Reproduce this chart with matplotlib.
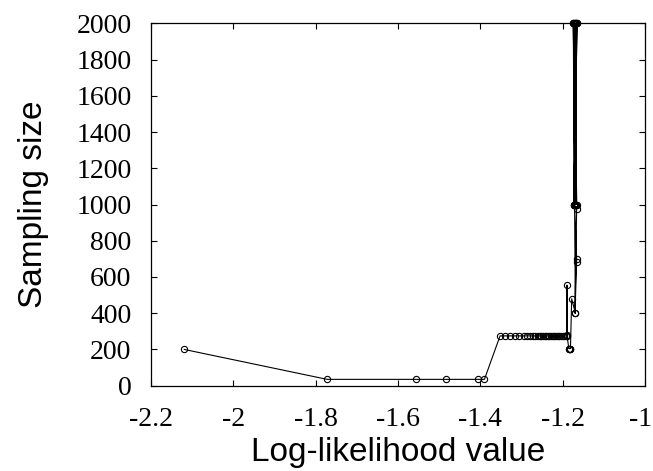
import matplotlib
matplotlib.use("Agg")
import matplotlib.pyplot as plt
import matplotlib.transforms as mtransforms

plt.rcParams['axes.unicode_minus'] = False

# log-likelihood (x) vs sampling size (y) in path order
loglik = [-2.119, -1.772, -1.557, -1.483, -1.405, -1.390,
          -1.352, -1.340, -1.327, -1.315, -1.305, -1.295, -1.287, -1.279,
          -1.273, -1.267, -1.260, -1.256, -1.252, -1.248, -1.244, -1.240,
          -1.236, -1.232, -1.228, -1.224, -1.220, -1.216, -1.212, -1.208,
          -1.204, -1.200, -1.196, -1.192, -1.189,
          -1.1895, -1.1895,
          -1.185, -1.184, -1.183, -1.182, -1.181,
          -1.178, -1.169, -1.171, -1.166, -1.166, -1.170, -1.166,
          -1.172, -1.174, -1.170, -1.172, -1.168, -1.170, -1.166,
          -1.171, -1.169, -1.167, -1.173, -1.165, -1.172, -1.168,
          -1.170, -1.174, -1.166]
size = [200, 35, 35, 35, 35, 35,
        275, 275, 275, 275, 275, 275, 275, 275,
        275, 275, 275, 275, 275, 275, 275, 275,
        275, 275, 275, 275, 275, 275, 275, 275,
        275, 275, 275, 275, 275,
        555, 280,
        205, 205, 205, 205, 205,
        480, 400, 1000, 700, 680, 400, 975,
        1000, 2000, 1000, 2000, 1000, 2000, 1000,
        2000, 1000, 2000, 1000, 2000, 1000, 2000,
        1000, 2000, 2000]

xticks = [-2.2, -2, -1.8, -1.6, -1.4, -1.2, -1]
xlabels = ['-2.2', '-2', '-1.8', '-1.6', '-1.4', '-1.2', '-1']
yticks = [0, 200, 400, 600, 800, 1000, 1200, 1400, 1600, 1800, 2000]

fig = plt.figure(figsize=(6.53, 4.71), dpi=100)
ax = fig.add_axes([0.2312, 0.1811, 0.7565, 0.7694])

ax.plot(loglik, size, color='black', linewidth=0.8, marker='o',
        markersize=4.5, markerfacecolor='none', markeredgecolor='black',
        markeredgewidth=0.8, clip_on=False)

ax.set_xlim(-2.2, -1)
ax.set_ylim(0, 2000)
ax.set_xticks(xticks)
ax.set_xticklabels(xlabels)
ax.set_yticks(yticks)

for lab in ax.get_xticklabels() + ax.get_yticklabels():
    lab.set_family('Liberation Serif')
    lab.set_fontsize(20)

ax.tick_params(direction='in', length=4, width=0.8, top=True, right=True,
               pad=15)
ax.tick_params(axis='y', pad=14)
for s in ax.spines.values():
    s.set_linewidth(0.9)

# the last x label sits a bit left so it stays on the canvas
last = ax.get_xticklabels()[-1]
last.set_transform(last.get_transform() +
                   mtransforms.ScaledTranslation(-4 / 100, 0, fig.dpi_scale_trans))

ax.set_xlabel('Log-likelihood value', family='Liberation Sans', fontsize=24,
              labelpad=4)
ax.set_ylabel('Sampling size', family='Liberation Sans', fontsize=24,
              labelpad=20)

fig.savefig('out.png', dpi=100)
